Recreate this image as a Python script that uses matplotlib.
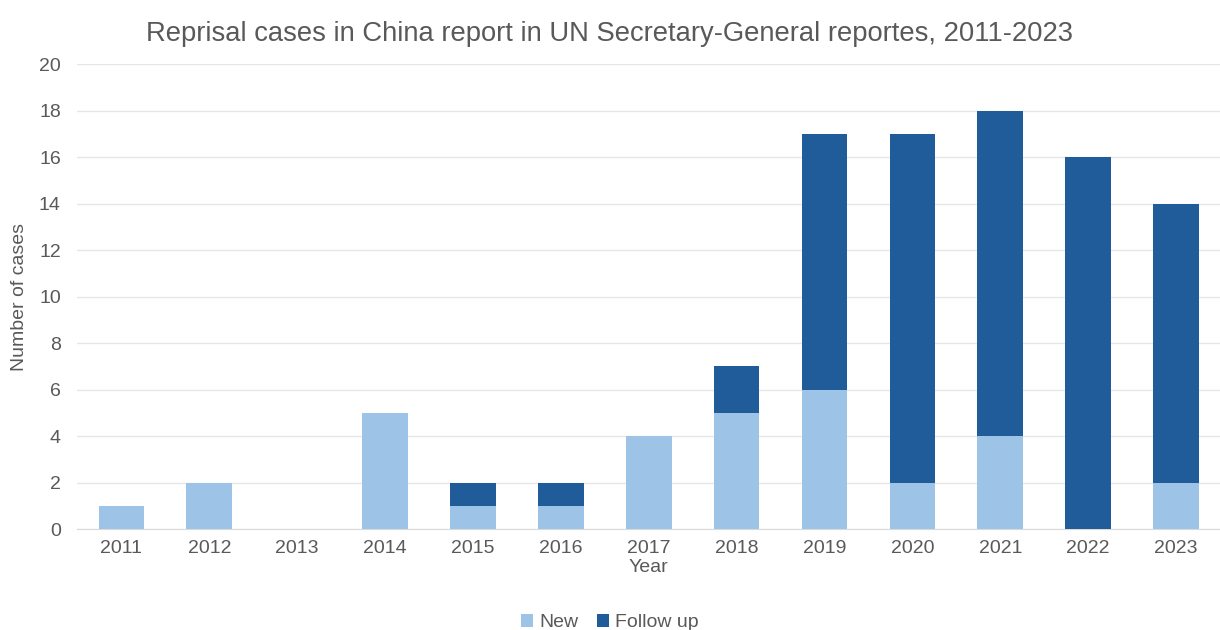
import numpy as np
import matplotlib.pyplot as plt

plt.rcParams['font.family'] = ['Liberation Sans', 'DejaVu Sans']

years = ['2011', '2012', '2013', '2014', '2015', '2016', '2017',
         '2018', '2019', '2020', '2021', '2022', '2023']
new_cases = [1, 2, 0, 5, 1, 1, 4, 5, 6, 2, 4, 0, 2]
follow_up = [0, 0, 0, 0, 1, 1, 0, 2, 11, 15, 14, 16, 12]

light = '#9dc3e6'
dark = '#1f5c99'
txt = '#595959'

fig = plt.figure(figsize=(12.2, 6.3), dpi=100)
ax = fig.add_axes([0.0635, 0.160, 0.9365, 0.738])

x = np.arange(len(years))
ax.bar(x, new_cases, width=0.52, color=light, label='New', zorder=3)
ax.bar(x, follow_up, width=0.52, bottom=new_cases, color=dark, label='Follow up', zorder=3)

ax.set_xlim(-0.5, len(years) - 0.5)
ax.set_ylim(0, 20)
ax.set_yticks(range(0, 21, 2))
ax.set_xticks(x)
ax.set_xticklabels(years)
ax.grid(axis='y', color='#e6e6e6', linewidth=1, zorder=0)
for s in ['top', 'right', 'left']:
    ax.spines[s].set_visible(False)
ax.spines['bottom'].set_color('#d9d9d9')
ax.tick_params(length=0, labelsize=14, colors=txt, pad=8)
ax.tick_params(axis='y', pad=12)

ax.set_xlabel('Year', fontsize=14, color=txt, labelpad=1)
ax.set_ylabel('Number of cases', fontsize=14, color=txt, labelpad=8)
fig.suptitle('Reprisal cases in China report in UN Secretary-General reportes, 2011-2023',
             fontsize=19.7, color=txt, y=0.966)

fig.legend(loc='lower center', ncol=2, frameon=False, fontsize=14,
           bbox_to_anchor=(0.5, -0.03), handlelength=0.6, handleheight=0.6,
           handletextpad=0.3, columnspacing=1.0, labelcolor=txt)

fig.savefig('out.png', dpi=100, facecolor='white')
